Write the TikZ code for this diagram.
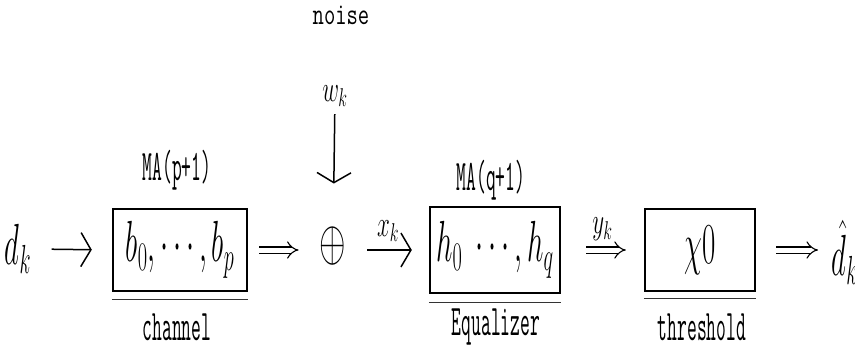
\RequirePackage{fix-cm}
\documentclass[tikz,border=0pt]{standalone}
\usetikzlibrary{arrows.meta}

% függőlegesen nyújtott szöveg (a rajz betűi magasak, keskenyek)
\newcommand{\tallbox}[2][2]{\scalebox{1}[#1]{#2}}

\begin{document}
\begin{tikzpicture}[x=1pt,y=-1pt,
    % Stílusok a blokkokhoz, feliratokhoz és nyilakhoz
    blokk/.style={draw, line width=2.4pt, minimum height=82pt, inner sep=0pt},
    felirat/.style={font=\ttfamily\fontsize{19}{19}\selectfont},
    jel/.style={font=\fontsize{29}{29}\selectfont},
    kicsi/.style={font=\fontsize{23}{23}\selectfont},
    nyil/.style={line width=1.5pt, -{Straight Barb[length=10pt,width=34pt]}},
    dupla/.style={double, double distance=5pt, line width=1.1pt, -{Implies[length=9pt,width=28pt]}},
    arnyek/.style={line width=1.2pt, black!80}
]

    % Keret
    \useasboundingbox (0,0) rectangle (855,359);
    \clip (0,0) rectangle (855,359);

    % Bemenet
    \node[jel] (dk) at (18,249) {\tallbox{$d_k$}};

    % Csatorna (channel)
    \node[blokk, jel, minimum width=134pt] (ch) at (180,250) {\tallbox{$b_0,\cdots,b_p$}};
    \node[felirat] (chma) at (177,170) {\tallbox[2.3]{MA(p+1)}};
    \node[felirat] (chlab) at (177,327) {\tallbox[2.3]{channel}};
    \draw[arnyek] ([yshift=-7pt]ch.south west) -- ([yshift=-7pt]ch.south east);

    % Zaj és összegző
    \node[felirat, font=\ttfamily\fontsize{22}{22}\selectfont, inner sep=1pt] (noise) at (341,15) {\tallbox[1.4]{noise}};
    \node[kicsi] (wk) at (335,96) {\tallbox[1.6]{$w_k$}};
    \node[font=\fontsize{34}{34}\selectfont, inner sep=1pt] (sum) at (333,246) {\tallbox[1.7]{$\oplus$}};

    % Kiegyenlítő (Equalizer)
    \node[blokk, jel, minimum width=130pt, minimum height=86pt] (eq) at (495,250) {\tallbox{$h_0\ \cdots,h_q$}};
    \node[felirat] (eqma) at (491,180) {\tallbox[2.3]{MA(q+1)}};
    \node[felirat] (eqlab) at (496,327) {\tallbox[2.3]{Equalizer}};
    \draw[arnyek] ([yshift=-8pt]eq.south west) -- ([yshift=-8pt]eq.south east);

    % Döntés (threshold)
    \node[blokk, jel, minimum width=110pt] (th) at (700,250) {\tallbox{$\chi0$}};
    \node[felirat] (thlab) at (702,327) {\tallbox[2.3]{threshold}};
    \draw[arnyek] ([yshift=-6pt]th.south west) -- ([yshift=-6pt]th.south east);

    % Kimenet (a jobb szélen levágva)
    \node[jel, anchor=west] (dh) at (828,252) {\tallbox{$\hat{d}_k$}};

    % Nyilak
    \draw[nyil, shorten <=17pt, shorten >=20pt] (dk.east) -- (ch.west);
    \draw[dupla, shorten <=11pt, shorten >=20pt] (ch.east) -- (sum.west |- ch.east);
    \draw[nyil, shorten <=4pt, shorten >=42pt] (wk) -- (sum);
    \draw[nyil, shorten <=20pt, shorten >=17pt] (sum.east |- eq.west) -- (eq.west)
        node[midway, above=4pt, kicsi] (xk) {\tallbox[1.6]{$x_k$}};
    \draw[dupla, shorten <=25pt, shorten >=18pt] (eq.east) -- (th.west)
        node[midway, above=5pt, kicsi] (yk) {\tallbox[1.6]{$y_k$}};
    \draw[dupla, shorten <=20pt, shorten >=10pt] (th.east) -- (dh.west |- th.east);
\end{tikzpicture}
\end{document}
